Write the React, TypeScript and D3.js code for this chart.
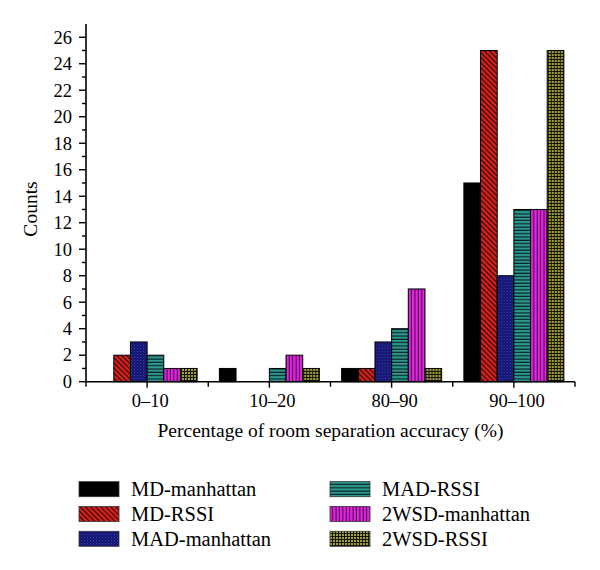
import React from "react";
import * as d3 from "d3";

const categories = ["0–10", "10–20", "80–90", "90–100"];
const seriesNames = ["MD-manhattan", "MD-RSSI", "MAD-manhattan", "MAD-RSSI", "2WSD-manhattan", "2WSD-RSSI"];
const mdManhattan = [0, 1, 1, 15];
const mdRssi = [2, 0, 1, 25];
const madManhattan = [3, 0, 3, 8];
const madRssi = [2, 1, 4, 13];
const wsdManhattan = [1, 2, 7, 13];
const wsdRssi = [1, 1, 1, 25];
const seriesValues = [mdManhattan, mdRssi, madManhattan, madRssi, wsdManhattan, wsdRssi];
const yMajorTicks = [0, 2, 4, 6, 8, 10, 12, 14, 16, 18, 20, 22, 24, 26];
const yTitle = "Counts";
const xTitle = "Percentage of room separation accuracy (%)";

const W = 600;
const H = 570;
const FONT = "'Liberation Serif', 'Times New Roman', serif";

const patternIds = ["p0", "p1", "p2", "p3", "p4", "p5"];

function Patterns() {
  return (
    <defs>
      <pattern id="p1" patternUnits="userSpaceOnUse" width="3.6" height="3.6" patternTransform="rotate(-45)">
        <rect width="3.6" height="3.6" fill="#d8231e" />
        <rect width="1.3" height="3.6" fill="#3a0a08" />
      </pattern>
      <pattern id="p2" patternUnits="userSpaceOnUse" width="3" height="3">
        <rect width="3" height="3" fill="#14146e" />
        <rect x="0" y="0" width="1" height="1" fill="#3848b8" />
        <rect x="1.5" y="1.5" width="1" height="1" fill="#2a36a0" />
      </pattern>
      <pattern id="p3" patternUnits="userSpaceOnUse" width="4" height="3.3">
        <rect width="4" height="3.3" fill="#2b9a92" />
        <rect y="2.1" width="4" height="1.2" fill="#0b2220" />
      </pattern>
      <pattern id="p4" patternUnits="userSpaceOnUse" width="3.4" height="4">
        <rect width="3.4" height="4" fill="#e024e0" />
        <rect x="2.3" width="1.1" height="4" fill="#4a0a4a" />
      </pattern>
      <pattern id="p5" patternUnits="userSpaceOnUse" width="3" height="3">
        <rect width="3" height="3" fill="#151505" />
        <rect x="0" y="0" width="2" height="2" fill="#a09e40" />
      </pattern>
    </defs>
  );
}

function fillFor(i: number) {
  return i === 0 ? "#000" : `url(#${patternIds[i]})`;
}

export default function App() {
  const left = 86;
  const right = 575;
  const top = 24;
  const bottom = 381.7;

  const x = d3.scaleBand<string>().domain(categories).range([left, right]).paddingInner(0).paddingOuter(0);
  const groupW = 100;
  const inner = d3
    .scaleBand<string>()
    .domain(seriesNames)
    .range([(x.bandwidth() - groupW) / 2, (x.bandwidth() + groupW) / 2])
    .padding(0);
  const y = d3.scaleLinear().domain([0, 27]).range([bottom, top]);
  const yMinor = d3.range(1, 27, 2);

  const bounds = categories.map((c) => x(c)!).concat([right]);

  return (
    <svg
      width={W}
      height={H}
      style={{ position: "absolute", left: 0, top: 0, background: "#fff" }}
      fontFamily={FONT}
    >
      <Patterns />
      <rect width={W} height={H} fill="#fff" />

      {/* bars */}
      {categories.map((c, ci) => (
        <g key={c} transform={`translate(${x(c)},0)`}>
          {seriesNames.map((s, si) => {
            const v = seriesValues[si][ci];
            if (v <= 0) return null;
            return (
              <rect
                key={s}
                x={inner(s)}
                y={y(v)}
                width={inner.bandwidth()}
                height={y(0) - y(v)}
                fill={fillFor(si)}
                stroke="#000"
                strokeWidth={1}
              />
            );
          })}
        </g>
      ))}

      {/* y axis */}
      <line x1={left} x2={left} y1={top} y2={bottom} stroke="#000" strokeWidth={1.6} />
      {yMajorTicks.map((t) => (
        <g key={t}>
          <line x1={left - 7} x2={left} y1={y(t)} y2={y(t)} stroke="#000" strokeWidth={1.4} />
          <text x={left - 14} y={y(t)} dy="0.34em" textAnchor="end" fontSize={18.5} fill="#000">
            {t}
          </text>
        </g>
      ))}
      {yMinor.map((t) => (
        <line key={t} x1={left - 4} x2={left} y1={y(t)} y2={y(t)} stroke="#000" strokeWidth={1.4} />
      ))}
      <text
        transform={`translate(37,209) rotate(-90)`}
        textAnchor="middle"
        fontSize={19.5}
        fill="#000"
      >
        {yTitle}
      </text>

      {/* x axis */}
      <line x1={left} x2={right} y1={bottom} y2={bottom} stroke="#000" strokeWidth={1.6} />
      {bounds.map((b, i) => (
        <line key={"b" + i} x1={b} x2={b} y1={bottom} y2={bottom + 5} stroke="#000" strokeWidth={1.4} />
      ))}
      {categories.map((c) => (
        <g key={c}>
          <line
            x1={x(c)! + x.bandwidth() / 2}
            x2={x(c)! + x.bandwidth() / 2}
            y1={bottom}
            y2={bottom + 6}
            stroke="#000"
            strokeWidth={1.4}
          />
          <text x={x(c)! + x.bandwidth() / 2 + 3} y={407} textAnchor="middle" fontSize={18.5} fill="#000">
            {c}
          </text>
        </g>
      ))}
      <text x={(left + right) / 2} y={437} textAnchor="middle" fontSize={19.5} fill="#000">
        {xTitle}
      </text>

      {/* legend */}
      {seriesNames.map((s, i) => {
        const col = Math.floor(i / 3);
        const row = i % 3;
        const sx = col === 0 ? 79 : 330;
        const sy = 481.7 + row * 24.8;
        return (
          <g key={s}>
            <rect x={sx} y={sy} width={40} height={15} fill={fillFor(i)} stroke="#333" strokeWidth={0.8} />
            <text x={sx + 52} y={sy + 14.5} fontSize={20.5} fill="#000">
              {s}
            </text>
          </g>
        );
      })}
    </svg>
  );
}
